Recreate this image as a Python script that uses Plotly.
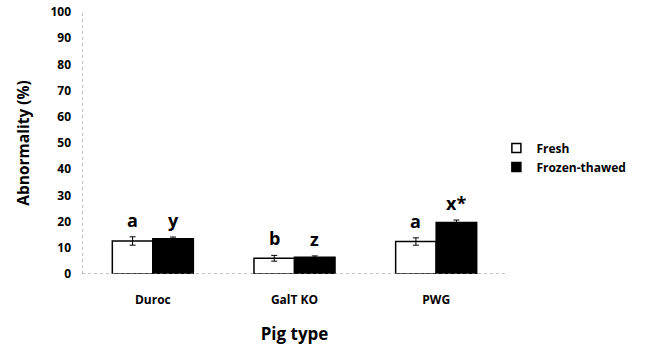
import plotly.graph_objects as go

categories = ["Duroc", "GalT KO", "PWG"]
fresh = [12.6, 6.0, 12.4]
fresh_err = [1.6, 1.1, 1.4]
frozen = [13.5, 6.4, 19.7]
frozen_err = [0.6, 0.5, 0.9]
fresh_labels = ["a", "b", "a"]
frozen_labels = ["y", "z", "x*"]
y_ticks = [0, 10, 20, 30, 40, 50, 60, 70, 80, 90, 100]

FONT = "Open Sans"
bw = 0.286
xs = list(range(len(categories)))
x_fresh = [x - bw / 2 for x in xs]
x_frozen = [x + bw / 2 for x in xs]

fig = go.Figure()
fig.add_trace(go.Bar(
    x=x_fresh, y=fresh, width=bw, name="Fresh", showlegend=False,
    marker=dict(color="white", line=dict(color="black", width=1.5)),
    error_y=dict(type="data", array=fresh_err, color="black", thickness=1, width=3),
))
fig.add_trace(go.Bar(
    x=x_frozen, y=frozen, width=bw, name="Frozen-thawed", showlegend=False,
    marker=dict(color="black", line=dict(color="black", width=1.5)),
    error_y=dict(type="data", array=frozen_err, color="black", thickness=1, width=3),
))
# legend entries with small square swatches
fig.add_trace(go.Scatter(x=[None], y=[None], mode="markers", name="<b>Fresh</b>",
                         marker=dict(symbol="square", size=9, color="white",
                                     line=dict(color="black", width=1.5))))
fig.add_trace(go.Scatter(x=[None], y=[None], mode="markers", name="<b>Frozen-thawed</b>",
                         marker=dict(symbol="square", size=9, color="black",
                                     line=dict(color="black", width=1.5))))

for xv, v, e, t in zip(x_fresh + x_frozen, fresh + frozen, fresh_err + frozen_err,
                       fresh_labels + frozen_labels):
    fig.add_annotation(x=xv, y=v + e, text="<b>%s</b>" % t, showarrow=False,
                       yanchor="bottom", yshift=3,
                       font=dict(family=FONT, size=18, color="black"))

# dotted axis lines
fig.add_shape(type="line", xref="x", yref="y", x0=-0.5, x1=2.5, y0=0, y1=0,
              line=dict(color="#888", width=1, dash="dot"))
fig.add_shape(type="line", xref="x", yref="y", x0=-0.5, x1=-0.5, y0=0, y1=100,
              line=dict(color="#888", width=1, dash="dot"))

fig.update_layout(
    width=645, height=349,
    margin=dict(l=82, r=138, t=12, b=75),
    paper_bgcolor="white", plot_bgcolor="white",
    barmode="overlay",
    showlegend=True,
    legend=dict(x=0.975, y=0.445, xanchor="left", yanchor="middle",
                font=dict(family=FONT, size=12, color="black"),
                itemwidth=30, tracegroupgap=0),
    xaxis=dict(range=[-0.5, 2.5], tickvals=xs, automargin=False,
               ticktext=["<b>%s</b>" % c for c in categories],
               showgrid=False, zeroline=False, showline=False, ticks="",
               ticklabelstandoff=17, ticklabeloverflow="allow",
               tickfont=dict(family=FONT, size=12, color="black"),
               title=dict(text="<b>Pig type</b>", standoff=21,
                          font=dict(family=FONT, size=17, color="black"))),
    yaxis=dict(range=[0, 100], tickvals=y_ticks, automargin=False,
               ticktext=["<b>%d</b>" % t for t in y_ticks],
               showgrid=False, zeroline=False, showline=False, ticks="",
               ticklabelstandoff=10, ticklabeloverflow="allow",
               tickfont=dict(family=FONT, size=12, color="black"),
               title=dict(text="<b>Abnormality (%)</b>", standoff=16,
                          font=dict(family=FONT, size=15.5, color="black"))),
)

fig.write_html("out.html", config={"displayModeBar": False},
               post_script="document.body.style.margin='0';document.body.style.overflow='hidden';")
